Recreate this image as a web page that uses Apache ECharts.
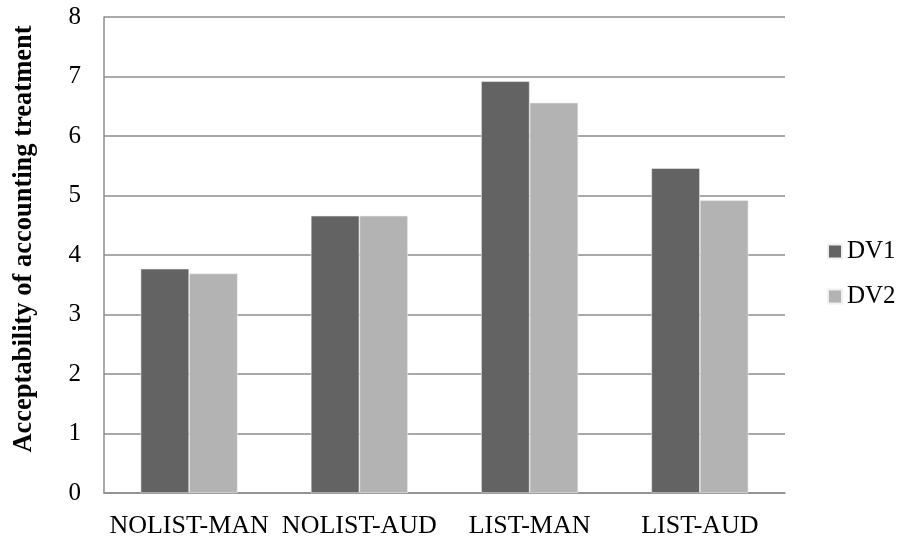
<!DOCTYPE html>
<html>
<head>
    <meta charset="utf-8">
    <title>Acceptability chart</title>
    <script type="text/javascript" src="https://cdn.jsdelivr.net/npm/echarts@6/dist/echarts.min.js"></script>
    <style type="text/css">
        html, body { margin: 0; padding: 0; background: #fff; }
        #main { width: 907px; height: 544px; }
    </style>
</head>
<body>
<div id="main"></div>
<script type="text/javascript">
    var categories = ['NOLIST-MAN', 'NOLIST-AUD', 'LIST-MAN', 'LIST-AUD'];
    var dv1 = [3.77, 4.66, 6.92, 5.46];
    var dv2 = [3.69, 4.66, 6.56, 4.92];
    var yTicks = [0, 1, 2, 3, 4, 5, 6, 7, 8];

    var font = '"Liberation Serif", "Times New Roman", serif';
    var myChart = echarts.init(document.getElementById('main'));

    var option = {
        animation: false,
        color: ['#636363', '#b3b3b3'],
        textStyle: { fontFamily: font },
        grid: {
            left: 104,
            right: 122,
            top: 17,
            bottom: 51
        },
        legend: {
            orient: 'vertical',
            left: 827,
            top: 239,
            padding: 0,
            icon: 'rect',
            itemWidth: 14,
            itemHeight: 14,
            itemGap: 20,
            textStyle: { fontFamily: font, fontSize: 25, color: '#000' },
            data: ['DV1', 'DV2']
        },
        xAxis: {
            type: 'category',
            data: categories,
            axisLine: { lineStyle: { color: '#8c8c8c', width: 1.5 } },
            axisTick: { show: false },
            axisLabel: { interval: 0, fontFamily: font, fontSize: 26, color: '#000', margin: 20 }
        },
        yAxis: {
            type: 'value',
            min: yTicks[0],
            max: yTicks[yTicks.length - 1],
            interval: 1,
            name: 'Acceptability of accounting treatment',
            nameLocation: 'middle',
            nameGap: 66,
            nameTextStyle: {
                fontFamily: font, fontSize: 26.5, fontWeight: 'bold', color: '#000',
                padding: [0, 0, 0, 32]
            },
            axisLine: { show: true, lineStyle: { color: '#8c8c8c', width: 1.5 } },
            axisTick: { show: false },
            axisLabel: { fontFamily: font, fontSize: 25, color: '#000', margin: 23 },
            splitLine: { lineStyle: { color: '#8c8c8c', width: 1.5 } }
        },
        series: [{
            name: 'DV1',
            type: 'bar',
            barWidth: '28.5%',
            barGap: '0%',
            data: dv1,
            itemStyle: { borderColor: '#f0f0f0', borderWidth: 0.6 }
        }, {
            name: 'DV2',
            type: 'bar',
            barWidth: '28.5%',
            data: dv2,
            itemStyle: { borderColor: '#f0f0f0', borderWidth: 0.6 }
        }]
    };

    myChart.setOption(option);
</script>
</body>
</html>
